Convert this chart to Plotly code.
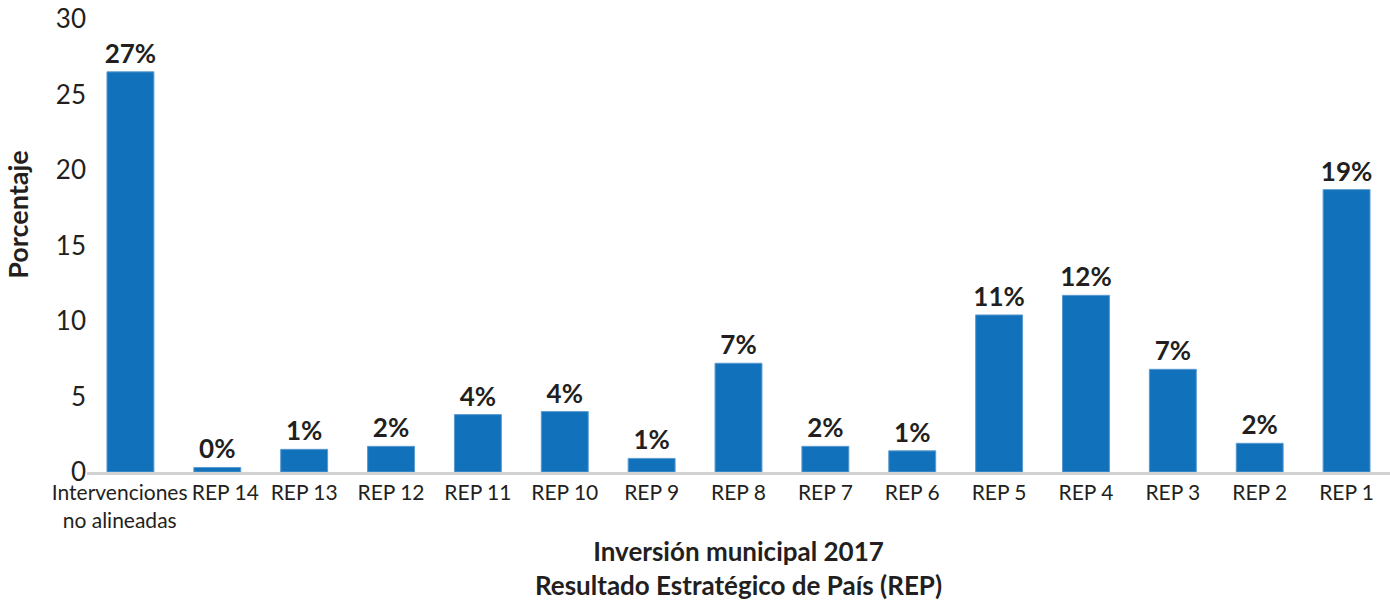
import plotly.graph_objects as go

# Datos
categorias = [
    "Intervenciones no alineadas", "REP 14", "REP 13", "REP 12", "REP 11",
    "REP 10", "REP 9", "REP 8", "REP 7", "REP 6", "REP 5", "REP 4",
    "REP 3", "REP 2", "REP 1",
]
porcentajes = [26.5, 0.3, 1.5, 1.7, 3.8, 4.0, 0.9, 7.2, 1.7, 1.4, 10.4, 11.7, 6.8, 1.9, 18.7]
etiquetas = ["27%", "0%", "1%", "2%", "4%", "4%", "1%", "7%", "2%", "1%",
             "11%", "12%", "7%", "2%", "19%"]
y_ticks = [0, 5, 10, 15, 20, 25, 30]

# texto de los ejes (los nbsp separan un poco las dos primeras etiquetas)
NB = "\u00a0"
tick_text = [
    "Intervenciones" + NB * 4 + "<br>no alineadas" + NB * 4,
    NB * 3 + "REP 14",
] + categorias[2:]

fig = go.Figure()
fig.add_trace(
    go.Bar(
        x=categorias,
        y=porcentajes,
        text=etiquetas,
        textposition="outside",
        constraintext="none",
        cliponaxis=False,
        textfont=dict(family="Lato", size=26, color="#231f20", weight="bold"),
        marker=dict(color="#1172bb", line=dict(color="#5a9ad0", width=1)),
        showlegend=False,
        hoverinfo="skip",
    )
)

fig.update_layout(
    width=1390,
    height=602,
    margin=dict(l=87, r=0, t=19, b=130),
    paper_bgcolor="white",
    plot_bgcolor="white",
    bargap=0.46,
    font=dict(family="Lato", color="#231f20"),
    xaxis=dict(
        type="category",
        tickvals=categorias,
        ticktext=tick_text,
        showline=True,
        linecolor="#d3d3d5",
        linewidth=3,
        ticks="",
        tickangle=0,
        tickfont=dict(size=21, color="#231f20"),
        title=dict(
            text="Inversión municipal 2017<br>Resultado Estratégico de País (REP)",
            font=dict(size=26, weight="bold", color="#231f20"),
            standoff=13,
        ),
        automargin=False,
    ),
    yaxis=dict(
        range=[0, 30],
        tickvals=y_ticks,
        showgrid=False,
        zeroline=False,
        showline=False,
        ticks="",
        ticklabeloverflow="allow",
        tickfont=dict(size=26, color="#231f20"),
        automargin=False,
    ),
    annotations=[
        dict(
            text="Porcentaje",
            xref="paper",
            yref="paper",
            x=-0.053,
            y=0.57,
            xanchor="center",
            yanchor="middle",
            textangle=-90,
            showarrow=False,
            font=dict(size=27, weight="bold", color="#231f20"),
        )
    ],
)

# quitar el margen por defecto del body para que el gráfico ocupe toda la ventana
fig.write_html(
    "out.html",
    config={"displayModeBar": False},
    post_script="document.body.style.margin='0';",
)
